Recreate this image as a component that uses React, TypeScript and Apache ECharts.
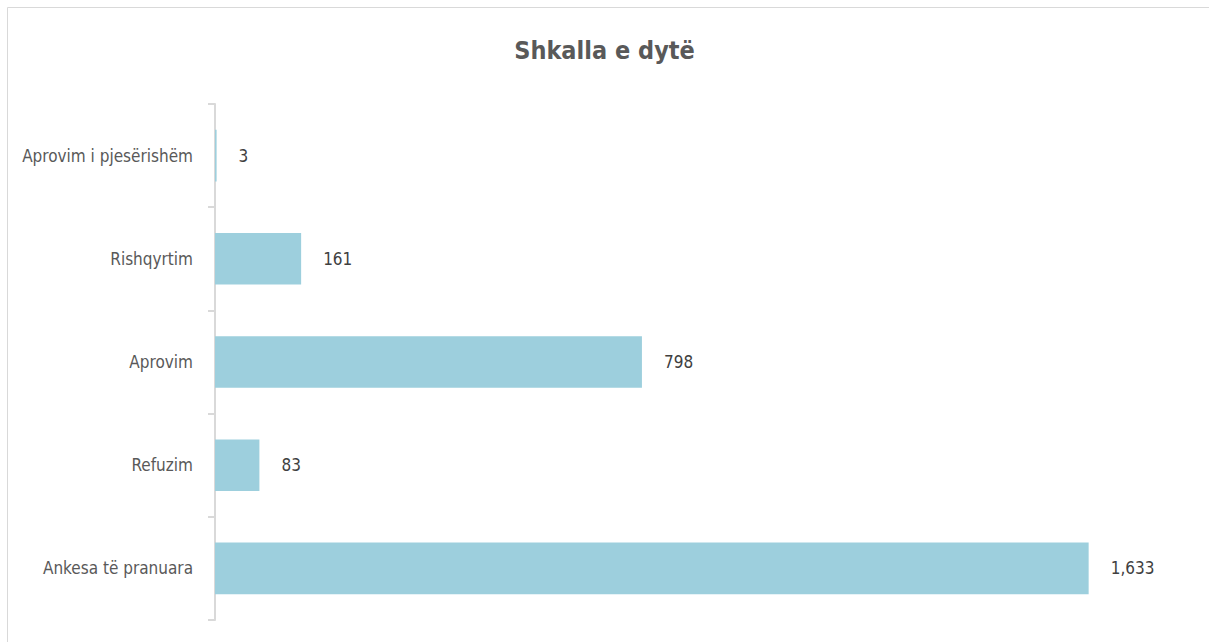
import React, { useEffect, useRef } from "react";
import * as echarts from "echarts";

const categories = ["Ankesa të pranuara", "Refuzim", "Aprovim", "Rishqyrtim", "Aprovim i pjesërishëm"];
const values = [1633, 83, 798, 161, 3];
const titleText = "Shkalla e dytë";

const FONT = "'Liberation Sans Narrow', 'DejaVu Sans Condensed', 'Roboto', sans-serif";

export default function App() {
  const ref = useRef<HTMLDivElement>(null);
  useEffect(() => {
    if (!ref.current) return;
    const chart = echarts.init(ref.current, undefined, { renderer: "svg" });
    chart.setOption({
      animation: false,
      backgroundColor: "#ffffff",
      title: {
        text: titleText,
        left: "center",
        top: 33,
        textStyle: { fontFamily: FONT, fontSize: 25, fontWeight: "bold", color: "#595959" },
      },
      graphic: [
        {
          type: "rect",
          shape: { x: 7.5, y: 7.5, width: 1230, height: 660 },
          style: { fill: "none", stroke: "#d9d9d9", lineWidth: 1 },
          silent: true,
        },
      ],
      grid: { left: 215, right: 31, top: 104, bottom: 22, containLabel: false },
      xAxis: {
        type: "value",
        min: 0,
        max: 1800,
        show: false,
      },
      yAxis: {
        type: "category",
        data: categories,
        axisLine: { show: true, lineStyle: { color: "#d9d9d9", width: 2 } },
        axisTick: { show: true, length: 7, lineStyle: { color: "#d9d9d9", width: 2 } },
        axisLabel: { fontFamily: FONT, fontSize: 17, color: "#595959", margin: 22 },
        splitLine: { show: false },
      },
      series: [
        {
          type: "bar",
          data: values,
          barCategoryGap: "50%",
          itemStyle: { color: "#9dcfdd" },
          label: {
            show: true,
            position: "right",
            distance: 22,
            fontFamily: FONT,
            fontSize: 17,
            color: "#404040",
            formatter: (p: any) => Number(p.value).toLocaleString("en-US"),
          },
        },
      ],
    });
    return () => chart.dispose();
  }, []);
  return (
    <div
      ref={ref}
      style={{ position: "absolute", left: 0, top: 0, width: 1209, height: 642 }}
    />
  );
}
